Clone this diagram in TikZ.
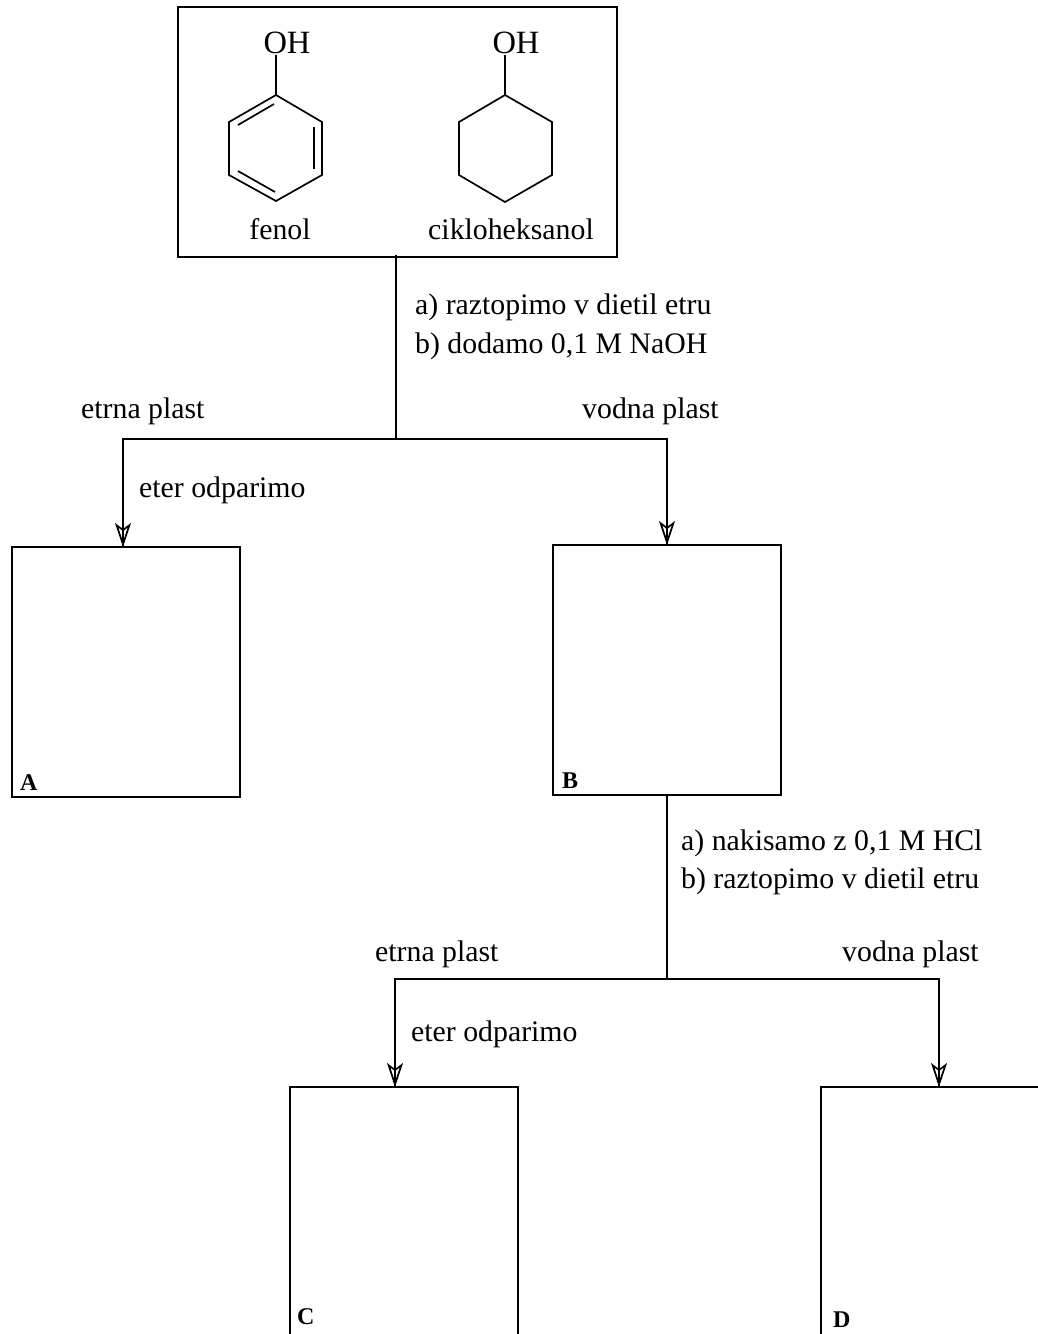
\documentclass[tikz,border=0pt]{standalone}
\usepackage{fontspec}
\setmainfont{Liberation Serif}
\usetikzlibrary{arrows.meta}
\tikzset{
  lw/.style={line width=1.7pt,black},
  box/.style={lw,draw,rectangle,inner sep=0pt,outer sep=0pt,minimum width=228pt,minimum height=250pt,anchor=north west},
  lbl/.style={font=\fontsize{29.8}{30}\selectfont,inner sep=0pt,anchor=base west},
  chem/.style={font=\fontsize{29.8}{30}\selectfont,inner sep=0pt,anchor=base},
  ohlabel/.style={font=\fontsize{32.5}{33}\selectfont,inner sep=0pt,anchor=base},
  tag/.style={font=\fontsize{24}{24}\selectfont\bfseries,inner sep=0pt,anchor=base west},
  link/.style={line width=1.2pt,black},
  trunk/.style={lw},
  tipped/.style={lw,-{Stealth[open,length=24pt,width=16pt,inset=6pt,line width=1.7pt]}},
}
\begin{document}
\begin{tikzpicture}[x=1pt,y=-1pt]
\useasboundingbox (0,0) rectangle (1038,1334);
\clip (0,0) rectangle (1038,1334);
% boxes
\node[box,minimum width=439pt,minimum height=250pt] (top) at (178,7) {};
\node[box] (A) at (12,547) {};
\node[box] (B) at (553,545) {};
\node[box] (C) at (290,1087) {};
\node[box] (D) at (821,1087) {};
% tags
\node[tag] (tA) at (20,790) {A};
\node[tag] (tB) at (562,788) {B};
\node[tag] (tC) at (297,1324) {C};
\node[tag] (tD) at (833,1327) {D};
% phenol
\coordinate (p1) at (276,95);
\coordinate (p2) at (322,122);
\coordinate (p3) at (322,175);
\coordinate (p4) at (276,201);
\coordinate (p5) at (229,175);
\coordinate (p6) at (229,122);
\node[ohlabel] (oh1) at (287,53) {OH};
\draw[lw,line join=miter] (p1)--(p2)--(p3)--(p4)--(p5)--(p6)--cycle;
\draw[lw] (p1)--(276,55);
\draw[lw] (274,104)--(238,125);
\draw[lw] (314,127)--(314,169);
\draw[lw] (275,192)--(238,171);
% cyclohexanol
\coordinate (c1) at (505,95);
\coordinate (c2) at (552,122);
\coordinate (c3) at (552,175);
\coordinate (c4) at (505,202);
\coordinate (c5) at (459,175);
\coordinate (c6) at (459,122);
\node[ohlabel] (oh2) at (516,53) {OH};
\draw[lw,line join=miter] (c1)--(c2)--(c3)--(c4)--(c5)--(c6)--cycle;
\draw[lw] (c1)--(505,55);
\node[chem] (fenol) at (280,239) {fenol};
\node[chem] (cik) at (511,239) {cikloheksanol};
% connectors
\coordinate (j1) at (396,439);
\coordinate (j2) at (667,979);
\draw[trunk] ([yshift=2pt]top.south -| j1) -- (j1);
\draw[tipped] (j1) -| ([xshift=-3pt]A.north);
\draw[link] ([xshift=-3pt,yshift=20pt]A.north) -- ([xshift=-3pt]A.north);
\draw[tipped] (j1) -| (B.north);
\draw[link] ([yshift=20pt]B.north) -- (B.north);
\draw[trunk] (B.south -| j2) -- (j2);
\draw[tipped] (j2) -| ([xshift=-9pt]C.north);
\draw[link] ([xshift=-9pt,yshift=20pt]C.north) -- ([xshift=-9pt]C.north);
\draw[tipped] (j2) -| ([xshift=4pt]D.north);
\draw[link] ([xshift=4pt,yshift=20pt]D.north) -- ([xshift=4pt]D.north);
% labels
\node[lbl] (l1) at (415,314) {a) raztopimo v dietil etru};
\node[lbl] (l2) at (415,353) {b) dodamo 0,1 M NaOH};
\node[lbl] (l3) at (81,418) {etrna plast};
\node[lbl] (l4) at (582,418) {vodna plast};
\node[lbl] (l5) at (139,497) {eter odparimo};
\node[lbl] (l6) at (681,850) {a) nakisamo z 0,1 M HCl};
\node[lbl] (l7) at (681,888) {b) raztopimo v dietil etru};
\node[lbl] (l8) at (375,961) {etrna plast};
\node[lbl] (l9) at (842,961) {vodna plast};
\node[lbl] (l10) at (411,1041) {eter odparimo};
\end{tikzpicture}
\end{document}
